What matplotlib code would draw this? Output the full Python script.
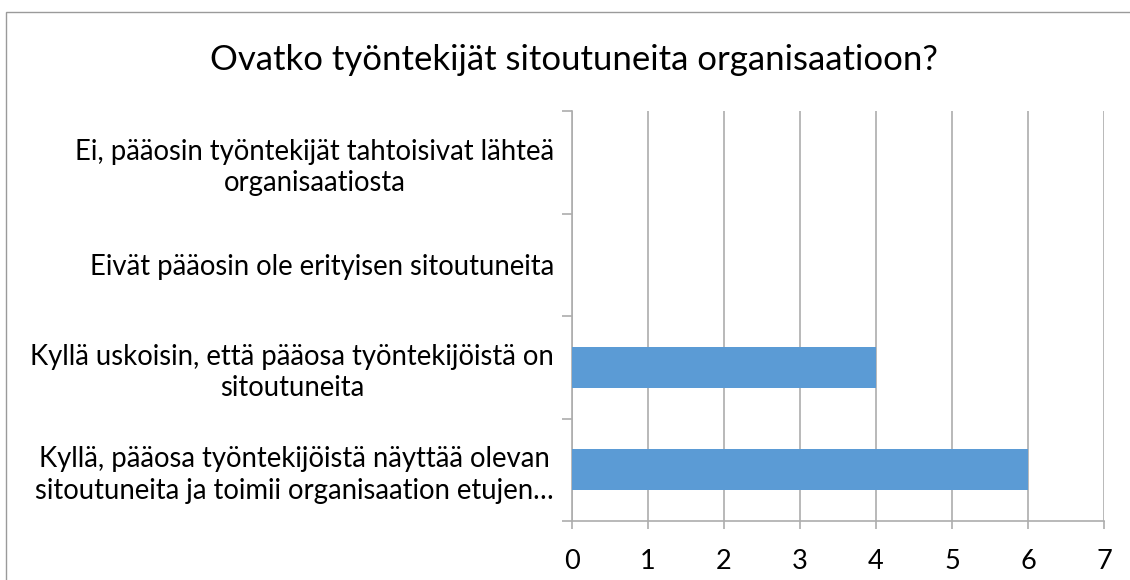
import numpy as np
import matplotlib.pyplot as plt
from matplotlib.patches import Rectangle

# data (bottom to top, as the categories appear on the axis)
categories = [
    "Kyllä, pääosa työntekijöistä näyttää olevan\nsitoutuneita ja toimii organisaation etujen…",
    "Kyllä uskoisin, että pääosa työntekijöistä on\nsitoutuneita",
    "Eivät pääosin ole erityisen sitoutuneita",
    "Ei, pääosin työntekijät tahtoisivat lähteä\norganisaatiosta",
]
values = [6, 4, 0, 0]
x_ticks = [0, 1, 2, 3, 4, 5, 6, 7]
title = "Ovatko työntekijät sitoutuneita organisaatioon?"

plt.rcParams['font.family'] = ['Lato', 'DejaVu Sans']

W, H = 1130, 580
fig = plt.figure(figsize=(W / 100, H / 100), dpi=100)
fig.patch.set_facecolor('white')

# chart-area border (only left and top edges are visible in the crop)
fig.patches.append(Rectangle((6 / W, -0.05), 1.2, 1 - 12 / H + 0.05,
                             transform=fig.transFigure, fill=False,
                             edgecolor='#9A9A9A', linewidth=1.0))

ax = fig.add_axes([572 / W, 1 - 521 / H, (1104 - 572) / W, (521 - 111) / H])

grid_col = '#ADADAD'
y = np.arange(len(categories))
ax.barh(y, values, height=0.4, color='#5B9BD5', zorder=3)

ax.set_xlim(0, 7)
ax.set_ylim(-0.5, len(categories) - 0.5)
ax.set_xticks(x_ticks)
ax.set_xticklabels([str(t) for t in x_ticks], fontsize=19.5)
ax.xaxis.grid(True, color=grid_col, linewidth=1.2, zorder=0)
ax.set_axisbelow(True)

ax.set_yticks(y)
ax.set_yticklabels(categories, fontsize=19.8)
for lab in ax.get_yticklabels():
    lab.set_multialignment('center')
    lab.set_linespacing(1.25)
ax.set_yticks(np.arange(-0.5, len(categories), 1.0), minor=True)
ax.tick_params(axis='y', which='major', length=0, pad=13)
ax.tick_params(axis='y', which='minor', length=7, color=grid_col, width=1.2)
ax.tick_params(axis='x', length=6, color=grid_col, width=1.2, pad=14)

for side in ['top', 'right']:
    ax.spines[side].set_visible(False)
for side in ['left', 'bottom']:
    ax.spines[side].set_color(grid_col)
    ax.spines[side].set_linewidth(1.2)

fig.text(574 / W, 1 - 60 / H, title, fontsize=25, ha='center', va='center')

fig.savefig('out.png', dpi=100)
